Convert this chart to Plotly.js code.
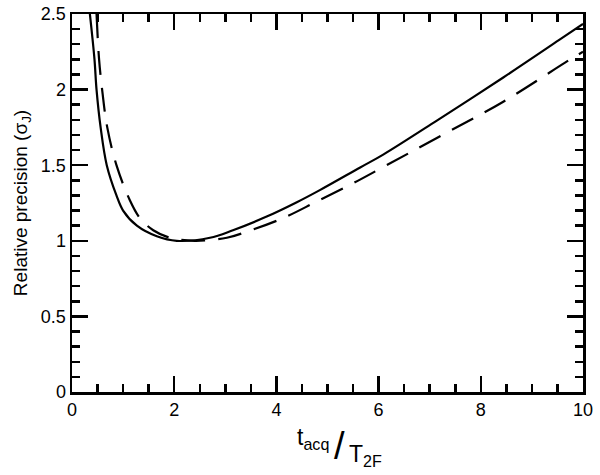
<!DOCTYPE html>
<html>
<head>
<meta charset="utf-8">
<script src="https://cdn.plot.ly/plotly-3.0.1.min.js"></script>
<style>html,body{margin:0;padding:0;background:#fff}</style>
</head>
<body>
<div id="chart" style="width:600px;height:475px"></div>
<script>
// values
const solidX = [0.35, 0.44, 0.48, 0.56, 0.68, 0.87, 1.0, 1.27, 1.66, 2.05, 2.7, 3.15, 3.81, 4.4, 4.85, 5.64, 6.09, 7.14, 8.44, 9.52, 10];
const solidY = [2.5, 2.2, 2.0, 1.75, 1.5, 1.3, 1.2, 1.1, 1.03, 1.0, 1.02, 1.07, 1.16, 1.255, 1.335, 1.485, 1.57, 1.795, 2.08, 2.325, 2.435];

const dashX = [0.48, 0.53, 0.6, 0.69, 0.87, 1.13, 1.33, 1.59, 1.92, 2.4, 3.03, 3.42, 4.13, 4.79, 5.47, 6.13, 7.14, 8.44, 9.75, 10];
const dashY = [2.5, 2.2, 1.97, 1.75, 1.5, 1.27, 1.15, 1.07, 1.02, 1.0, 1.02, 1.06, 1.15, 1.26, 1.375, 1.495, 1.68, 1.92, 2.2, 2.25];

const fontFamily = 'Liberation Sans, Arial, Helvetica, sans-serif';

const axisStyle = {
    showline: true,
    linewidth: 2.5,
    linecolor: '#000',
    mirror: 'ticks',
    ticks: 'inside',
    ticklen: 16,
    tickwidth: 2.5,
    tickcolor: '#000',
    showgrid: false,
    zeroline: false,
    tickfont: { family: fontFamily, size: 18, color: '#000' }
};

const data = [{
    type: 'scatter',
    mode: 'lines',
    x: solidX,
    y: solidY,
    line: { color: '#000', width: 2.2, shape: 'spline', smoothing: 1 },
    showlegend: false
}, {
    type: 'scatter',
    mode: 'lines',
    x: dashX,
    y: dashY,
    line: { color: '#000', width: 2.2, dash: '24px,13px', shape: 'spline', smoothing: 1 },
    showlegend: false
}];

const layout = {
    width: 600,
    height: 475,
    margin: { l: 72, r: 17, t: 14, b: 83 },
    paper_bgcolor: '#fff',
    plot_bgcolor: '#fff',
    xaxis: {
        ...axisStyle,
        range: [0, 10],
        tick0: 0,
        dtick: 2,
        minor: { dtick: 0.5, ticks: 'inside', ticklen: 8, tickwidth: 2.5, tickcolor: '#000' }
    },
    yaxis: {
        ...axisStyle,
        range: [0, 2.5],
        tick0: 0,
        dtick: 0.5,
        minor: { dtick: 0.1, ticks: 'inside', ticklen: 8, tickwidth: 2.5, tickcolor: '#000' },
        title: {
            text: 'Relative precision (σ<sub>J</sub>)',
            font: { family: fontFamily, size: 19, color: '#000' },
            standoff: 8
        }
    },
    // x title drawn in three pieces: t_acq / T_2F
    annotations: [{
        xref: 'paper', yref: 'paper',
        x: 0.507, y: -0.122,
        xanchor: 'right', yanchor: 'middle',
        text: 't<sub>acq</sub>',
        showarrow: false,
        font: { family: fontFamily, size: 23, color: '#000' }
    }, {
        xref: 'paper', yref: 'paper',
        x: 0.5235, y: -0.143,
        xanchor: 'center', yanchor: 'middle',
        text: '/',
        showarrow: false,
        font: { family: fontFamily, size: 38, color: '#000' }
    }, {
        xref: 'paper', yref: 'paper',
        x: 0.538, y: -0.167,
        xanchor: 'left', yanchor: 'middle',
        text: 'T<sub>2F</sub>',
        showarrow: false,
        font: { family: fontFamily, size: 23, color: '#000' }
    }]
};

Plotly.newPlot('chart', data, layout, { displayModeBar: false, staticPlot: true });
</script>
</body>
</html>
